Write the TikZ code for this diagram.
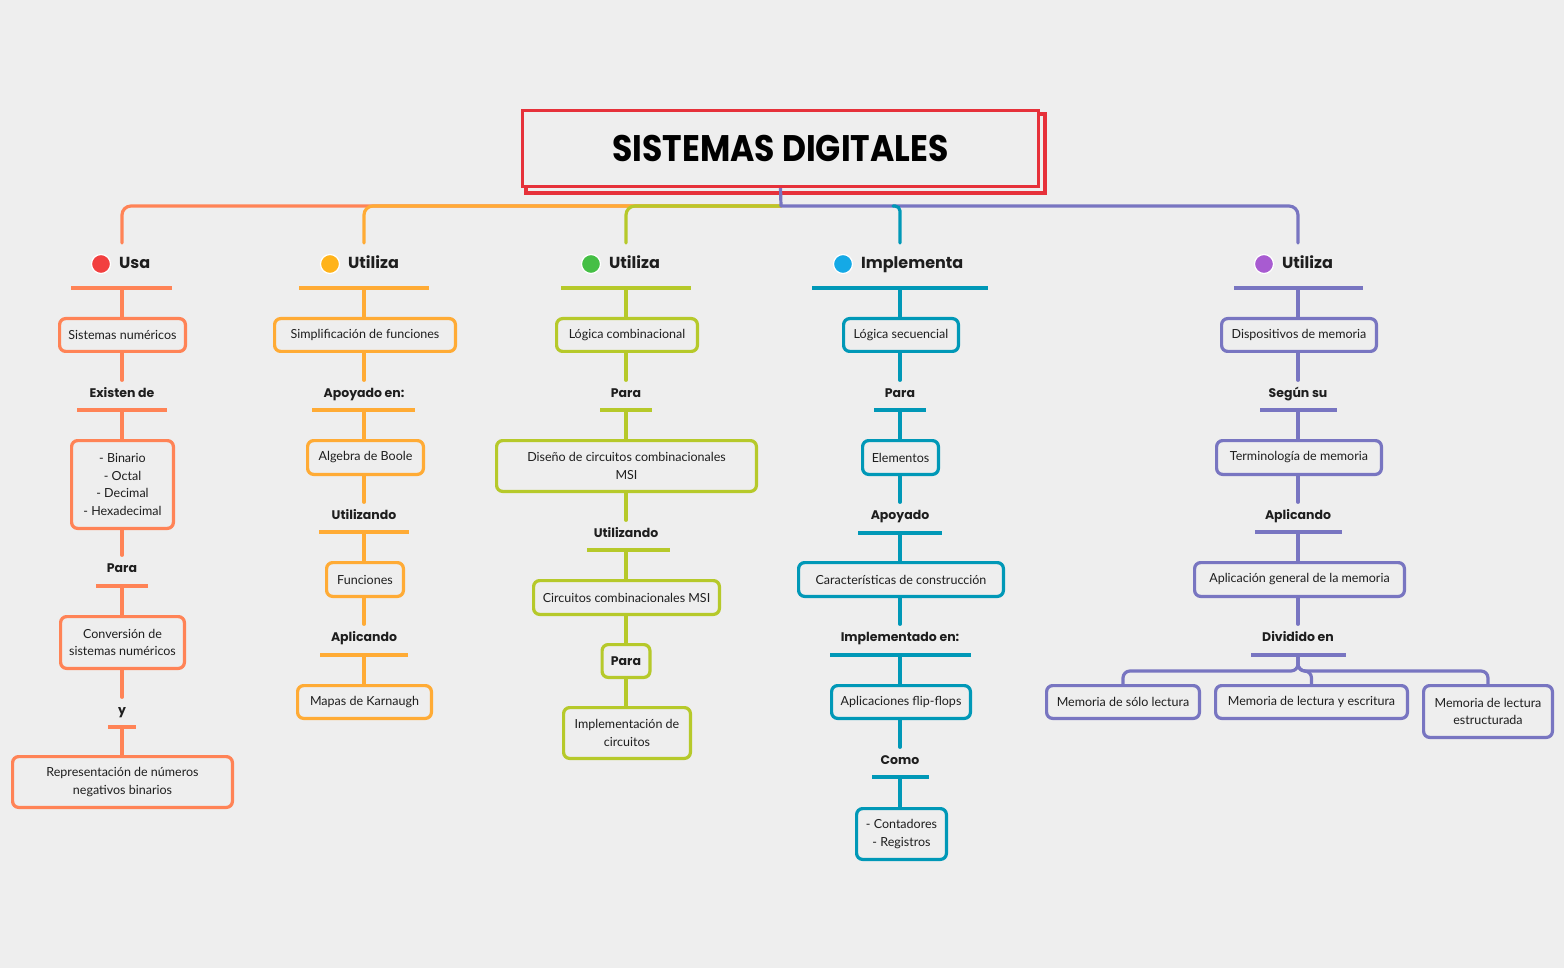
\documentclass[tikz,border=0pt]{standalone}
\usepackage{fontspec}
\setmainfont{Lato}
\newfontfamily\lblfont{Poppins}
\definecolor{bgc}{HTML}{EEEEEE}
\definecolor{txt}{HTML}{1E1E1E}
\definecolor{corg}{HTML}{FF8356}
\definecolor{camb}{HTML}{FFAB35}
\definecolor{clim}{HTML}{B6C92A}
\definecolor{ctea}{HTML}{0098B7}
\definecolor{cpur}{HTML}{7875C1}
\definecolor{cred}{HTML}{E6313A}
\definecolor{dred}{HTML}{F23F3F}
\definecolor{damb}{HTML}{FFB31A}
\definecolor{dgrn}{HTML}{45BF45}
\definecolor{dblu}{HTML}{14A9E6}
\definecolor{dpur}{HTML}{A85BD1}
\tikzset{
  box/.style={draw, line width=3.2pt, rounded corners=6pt, fill=bgc, align=center, text=txt,
    font=\fontsize{12.5}{17.5}\selectfont, inner sep=2pt},
  lab/.style={font=\lblfont\bfseries\fontsize{12.5}{14}\selectfont, text=txt, minimum height=27pt,
    text height=9pt, text depth=2.5pt, inner sep=0pt},
  conn/.style={line width=3.2pt, line cap=round},
  uline/.style={line width=3.2pt},
  hdr/.style={font=\lblfont\bfseries\fontsize{16}{18}\selectfont, anchor=west, inner sep=0pt, text=txt,
    text height=11.5pt, text depth=3pt},
  dot/.style={circle, draw=white, line width=1.2pt, minimum size=19pt, inner sep=0pt},
}
\newcommand{\bxnode}[7]{%
  \node[box, draw=#2, minimum width={#5pt-#3pt-3.2pt}, minimum height={#6pt-#4pt-3.2pt}]
    (#1) at ({(#3+#5)/2},{(#4+#6)/2}) {#7};}
\newcommand{\lbnode}[8]{%
  \node[lab] (#1) at (#3,#4) {#5};
  \draw[uline, draw=#2] (#6,#8) -- (#7,#8);
  \coordinate (#1u) at (#3,#8);}
% vertical connector from (#2) down to level of (#3)
\newcommand{\vc}[3]{\draw[conn, #1] (#2) -- (#2 |- #3);}
\begin{document}
\begin{tikzpicture}[x=1pt,y=-1pt]
\useasboundingbox (0,0) rectangle (1564,968);
\fill[bgc] (0,0) rectangle (1564,968);

% title
\draw[cred, line width=3.2pt] (526,114) rectangle (1045,193);
\node[draw=cred, line width=3.2pt, fill=bgc, minimum width=516pt, minimum height=76pt, inner sep=0pt, text=black]
  (title) at (780.5,148.5) {\scalebox{1}[1.12]{\lblfont\bfseries\fontsize{33}{35}\selectfont SISTEMAS DIGITALES}};

% header coordinates
\coordinate (h1t) at (122,243);
\coordinate (h2t) at (364,243);
\coordinate (h3t) at (626,243);
\coordinate (h4t) at (900,243);
\coordinate (h5t) at (1298,243);
\coordinate (bus) at (781,206);

% bus
\draw[conn, corg, rounded corners=9pt] (bus) -- (122,206) -- (h1t);
\draw[conn, camb, rounded corners=9pt] (bus) -- (364,206) -- (h2t);
\draw[conn, clim, rounded corners=9pt] (bus) -- (626,206) -- (h3t);
\draw[conn, cpur, rounded corners=9pt] (bus) -- (1298,206) -- (h5t);
\draw[line width=3.2pt, cpur] (title.south) -- (bus);
\draw[conn, ctea, rounded corners=5pt] (893,206) -- (900,206) -- (h4t);

% headers
\node[dot, fill=dred] (d1) at (101,264) {};
\node[hdr] (h1) at (119,264) {Usa};
\node[dot, fill=damb] (d2) at (330,264) {};
\node[hdr] (h2) at (348,264) {Utiliza};
\node[dot, fill=dgrn] (d3) at (591,264) {};
\node[hdr] (h3) at (609,264) {Utiliza};
\node[dot, fill=dblu] (d4) at (843,264) {};
\node[hdr] (h4) at (861,264) {Implementa};
\node[dot, fill=dpur] (d5) at (1264,264) {};
\node[hdr] (h5) at (1282,264) {Utiliza};

\draw[uline, corg] (71,288) -- (172,288);   \coordinate (h1u) at (122,288);
\draw[uline, camb] (299,288) -- (429,288);  \coordinate (h2u) at (364,288);
\draw[uline, clim] (561,288) -- (691,288);  \coordinate (h3u) at (626,288);
\draw[uline, ctea] (812,288) -- (988,288);  \coordinate (h4u) at (900,288);
\draw[uline, cpur] (1234,288) -- (1363,288);\coordinate (h5u) at (1298,288);

% column 1
\bxnode{b11}{corg}{58}{317}{187}{353}{Sistemas numéricos}
\lbnode{l11}{corg}{122}{394}{Existen de}{77}{167}{410}
\bxnode{b12}{corg}{70}{439}{175}{530}{- Binario\\- Octal\\- Decimal\\- Hexadecimal}
\lbnode{l12}{corg}{122}{569}{Para}{96}{148}{586}
\bxnode{b13}{corg}{59}{615}{186}{670}{Conversión de\\sistemas numéricos}
\lbnode{l13}{corg}{122}{711}{y}{108}{136}{727}
\bxnode{b14}{corg}{11}{755}{234}{809}{Representación de números\\negativos binarios}
\vc{corg}{h1u}{b11.north}
\vc{corg}{l11.north}{b11.south}
\vc{corg}{l11u}{b12.north}
\vc{corg}{l12.north}{b12.south}
\vc{corg}{l12u}{b13.north}
\vc{corg}{l13.north}{b13.south}
\vc{corg}{l13u}{b14.north}

% column 2
\bxnode{b21}{camb}{273}{317}{457}{353}{Simplificación de funciones}
\lbnode{l21}{camb}{364}{394}{Apoyado en:}{312}{415}{410}
\bxnode{b22}{camb}{306}{439}{425}{476}{Algebra de Boole}
\lbnode{l22}{camb}{364}{516}{Utilizando}{319}{409}{532}
\bxnode{b23}{camb}{325}{561}{405}{598}{Funciones}
\lbnode{l23}{camb}{364}{638}{Aplicando}{320}{408}{655}
\bxnode{b24}{camb}{296}{684}{433}{720}{Mapas de Karnaugh}
\vc{camb}{h2u}{b21.north}
\vc{camb}{l21.north}{b21.south}
\vc{camb}{l21u}{b22.north}
\vc{camb}{l22.north}{b22.south}
\vc{camb}{l22u}{b23.north}
\vc{camb}{l23.north}{b23.south}
\vc{camb}{l23u}{b24.north}

% column 3
\bxnode{b31}{clim}{555}{317}{699}{353}{Lógica combinacional}
\lbnode{l31}{clim}{626}{394}{Para}{600}{652}{410}
\bxnode{b32}{clim}{495}{439}{758}{493}{Diseño de circuitos combinacionales\\MSI}
\lbnode{l32}{clim}{626}{534}{Utilizando}{587}{670}{550}
\bxnode{b33}{clim}{532}{579}{721}{616}{Circuitos combinacionales MSI}
\node[box, draw=clim, minimum width=47.8pt, minimum height=32.8pt, font=\lblfont\bfseries\fontsize{12.5}{14}\selectfont]
  (b34) at (626,661) {Para};
\bxnode{b35}{clim}{562}{706}{692}{760}{Implementación de\\circuitos}
\vc{clim}{h3u}{b31.north}
\vc{clim}{l31.north}{b31.south}
\vc{clim}{l31u}{b32.north}
\vc{clim}{l32.north}{b32.south}
\vc{clim}{l32u}{b33.north}
\vc{clim}{b34.north}{b33.south}
\vc{clim}{b34.south}{b35.north}

% column 4
\bxnode{b41}{ctea}{842}{317}{960}{353}{Lógica secuencial}
\lbnode{l41}{ctea}{900}{394}{Para}{874}{926}{410}
\bxnode{b42}{ctea}{861}{439}{940}{476}{Elementos}
\lbnode{l42}{ctea}{900}{516}{Apoyado}{858}{942}{533}
\bxnode{b43}{ctea}{797}{561}{1005}{598}{Características de construcción}
\lbnode{l43}{ctea}{900}{638}{Implementado en:}{830}{971}{655}
\bxnode{b44}{ctea}{830}{684}{972}{720}{Aplicaciones flip-flops}
\lbnode{l44}{ctea}{900}{761}{Como}{872}{929}{777}
\bxnode{b45}{ctea}{855}{807}{948}{861}{- Contadores\\- Registros}
\vc{ctea}{h4u}{b41.north}
\vc{ctea}{l41.north}{b41.south}
\vc{ctea}{l41u}{b42.north}
\vc{ctea}{l42.north}{b42.south}
\vc{ctea}{l42u}{b43.north}
\vc{ctea}{l43.north}{b43.south}
\vc{ctea}{l43u}{b44.north}
\vc{ctea}{l44.north}{b44.south}
\vc{ctea}{l44u}{b45.north}

% column 5
\bxnode{b51}{cpur}{1220}{317}{1378}{353}{Dispositivos de memoria}
\lbnode{l51}{cpur}{1298}{394}{Según su}{1260}{1337}{410}
\bxnode{b52}{cpur}{1215}{439}{1383}{476}{Terminología de memoria}
\lbnode{l52}{cpur}{1298}{516}{Aplicando}{1255}{1342}{532}
\bxnode{b53}{cpur}{1193}{561}{1406}{598}{Aplicación general de la memoria}
\lbnode{l53}{cpur}{1298}{638}{Dividido en}{1251}{1346}{655}
\bxnode{b54}{cpur}{1045}{684}{1201}{720}{Memoria de sólo lectura}
\bxnode{b55}{cpur}{1214}{684}{1409}{720}{Memoria de lectura y escritura}
\bxnode{b56}{cpur}{1422}{684}{1554}{739}{Memoria de lectura\\estructurada}
\vc{cpur}{h5u}{b51.north}
\vc{cpur}{l51.north}{b51.south}
\vc{cpur}{l51u}{b52.north}
\vc{cpur}{l52.north}{b52.south}
\vc{cpur}{l52u}{b53.north}
\vc{cpur}{l53.north}{b53.south}
\draw[conn, cpur, rounded corners=7pt] (l53u) -- ++(0,16) -| (b54.north);
\draw[conn, cpur, rounded corners=7pt] (l53u) -- ++(0,16) -| (b55.north);
\draw[conn, cpur, rounded corners=7pt] (l53u) -- ++(0,16) -| (b56.north);
\end{tikzpicture}
\end{document}
